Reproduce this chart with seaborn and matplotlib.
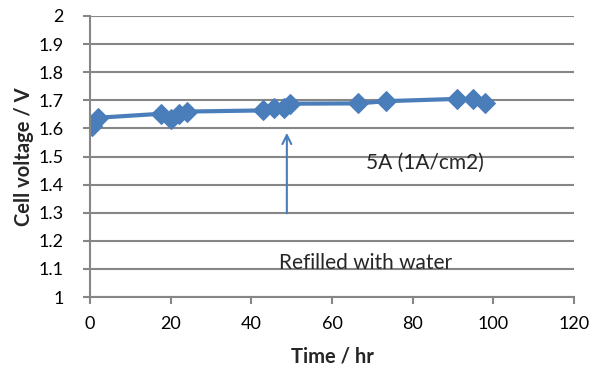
import numpy as np
import pandas as pd
import matplotlib
matplotlib.use('Agg')
import matplotlib.pyplot as plt
import seaborn as sns

# Données
time_hr = [0.5, 2, 17.5, 20, 22, 24, 43, 45.5, 48, 49.5, 66.5, 73.5, 91, 95, 98]
voltage = [1.61, 1.638, 1.652, 1.635, 1.652, 1.66, 1.664, 1.674, 1.671, 1.688,
           1.689, 1.697, 1.705, 1.703, 1.689]
y_ticks = [1, 1.1, 1.2, 1.3, 1.4, 1.5, 1.6, 1.7, 1.8, 1.9, 2]
x_ticks = [0, 20, 40, 60, 80, 100, 120]

df = pd.DataFrame({'time': time_hr, 'voltage': voltage})

sns.set_theme(style='white')
plt.rcParams['font.family'] = ['Lato', 'DejaVu Sans']

blue = '#4A7EBB'
grey = '#868686'

fig = plt.figure(figsize=(6.05, 3.8), dpi=100)
ax = fig.add_axes([0.1488, 0.2184, 0.80, 0.7395])

sns.lineplot(data=df, x='time', y='voltage', ax=ax, color=blue, linewidth=3,
             marker='D', markersize=10, markeredgecolor=blue, sort=False)

ax.set_xlim(0, 120)
ax.set_ylim(1, 2)
ax.set_xticks(x_ticks)
ax.set_yticks(y_ticks)
ax.set_yticklabels([f'{v:g}' for v in y_ticks])
ax.yaxis.grid(True, color=grey, linewidth=1.5)
ax.xaxis.grid(False)
ax.set_axisbelow(True)

for s in ['top', 'right']:
    ax.spines[s].set_visible(False)
for s in ['left', 'bottom']:
    ax.spines[s].set_color(grey)
    ax.spines[s].set_linewidth(1.5)

ax.tick_params(axis='both', colors=grey, labelcolor='black', labelsize=13,
               length=5, width=1.5, direction='out', left=True, bottom=True)
ax.tick_params(axis='y', pad=14)
ax.tick_params(axis='x', pad=9)

ax.set_xlabel('Time / hr', fontsize=14.5, fontweight='bold', labelpad=10)
ax.set_ylabel('Cell voltage / V', fontsize=14.5, fontweight='bold', labelpad=3)

# Annotations
ax.annotate('', xy=(48.8, 1.594), xytext=(48.8, 1.288),
            arrowprops=dict(arrowstyle='->', color=blue, lw=1.5,
                            mutation_scale=16))
ax.text(68.4, 1.477, '5A (1A/cm2)', fontsize=15, va='center', ha='left')
ax.text(46.9, 1.12, 'Refilled with water', fontsize=15, va='center', ha='left')

plt.savefig('out.png', dpi=100)
plt.close()
